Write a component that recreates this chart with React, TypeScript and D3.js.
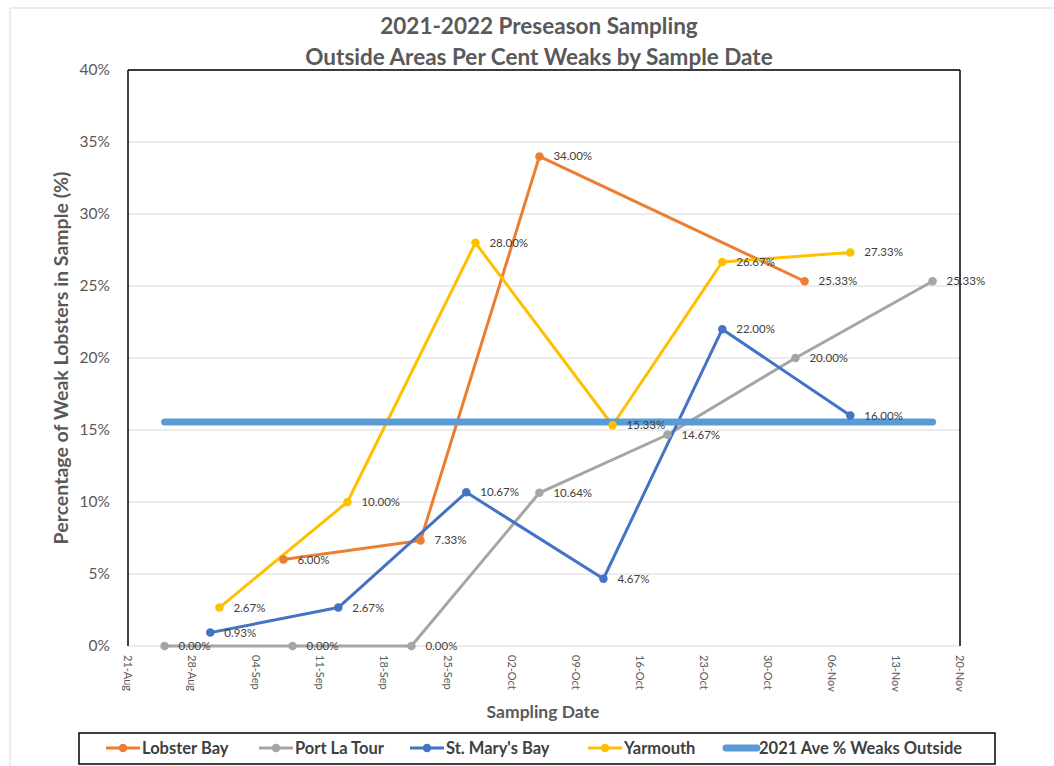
import React from "react";
import * as d3 from "d3";

const W = 1054;
const H = 766;

// Series data: [date, percent]
const lobsterBayDates = ["2021-09-07", "2021-09-22", "2021-10-05", "2021-11-03"];
const lobsterBayValues = [6.0, 7.33, 34.0, 25.33];

const portLaTourDates = ["2021-08-25", "2021-09-08", "2021-09-21", "2021-10-05", "2021-10-19", "2021-11-02", "2021-11-17"];
const portLaTourValues = [0.0, 0.0, 0.0, 10.64, 14.67, 20.0, 25.33];

const stMarysDates = ["2021-08-30", "2021-09-13", "2021-09-27", "2021-10-12", "2021-10-25", "2021-11-08"];
const stMarysValues = [0.93, 2.67, 10.67, 4.67, 22.0, 16.0];

const yarmouthDates = ["2021-08-31", "2021-09-14", "2021-09-28", "2021-10-13", "2021-10-25", "2021-11-08"];
const yarmouthValues = [2.67, 10.0, 28.0, 15.33, 26.67, 27.33];

const avgDates = ["2021-08-25", "2021-11-17"];
const avgValue = 15.56;

const seriesNames = ["Lobster Bay", "Port La Tour", "St. Mary's Bay", "Yarmouth", "2021 Ave % Weaks Outside"];
const seriesColors = ["#ED7D31", "#A5A5A5", "#4472C4", "#FFC000", "#5B9BD5"];

const yTicks = [0, 5, 10, 15, 20, 25, 30, 35, 40];
const xTickDates = ["2021-08-21", "2021-08-28", "2021-09-04", "2021-09-11", "2021-09-18", "2021-09-25", "2021-10-02", "2021-10-09", "2021-10-16", "2021-10-23", "2021-10-30", "2021-11-06", "2021-11-13", "2021-11-20"];

const FONT = "Lato, 'Open Sans', sans-serif";

const parse = d3.utcParse("%Y-%m-%d");
const fmtTick = d3.utcFormat("%d-%b");

export default function App() {
  const left = 128, right = 960, top = 70, bottom = 646;
  const x = d3.scaleUtc().domain([parse("2021-08-21")!, parse("2021-11-20")!]).range([left, right]);
  const y = d3.scaleLinear().domain([0, 40]).range([bottom, top]);

  const line = d3.line<[Date, number]>().x(d => x(d[0])).y(d => y(d[1]));

  const series = [
    { dates: lobsterBayDates, values: lobsterBayValues },
    { dates: portLaTourDates, values: portLaTourValues },
    { dates: stMarysDates, values: stMarysValues },
    { dates: yarmouthDates, values: yarmouthValues },
  ].map((s, i) => ({
    name: seriesNames[i],
    color: seriesColors[i],
    pts: s.dates.map((d, j) => [parse(d)!, s.values[j]] as [Date, number]),
  }));

  const avgPts: [Date, number][] = avgDates.map(d => [parse(d)!, avgValue]);

  // legend layout
  const legendItems = seriesNames.map((n, i) => ({ name: n, color: seriesColors[i] }));
  const legendX = [106, 259, 410, 588, 723];

  return (
    <svg width={W} height={H} style={{ position: "absolute", left: 0, top: 0, background: "#fff" }} fontFamily={FONT}>
      <rect x={0} y={0} width={W} height={H} fill="#fff" />
      {/* outer chart frame */}
      <line x1={10} y1={8} x2={W} y2={8} stroke="#d9d9d9" strokeWidth={1} />
      <line x1={10} y1={8} x2={10} y2={H} stroke="#d9d9d9" strokeWidth={1} />

      {/* title */}
      <text x={539} y={34} textAnchor="middle" fontSize={22.5} fontWeight="bold" fill="#595959">2021-2022 Preseason Sampling</text>
      <text x={539} y={65} textAnchor="middle" fontSize={22.5} fontWeight="bold" fill="#595959">Outside Areas Per Cent Weaks by Sample Date</text>

      {/* gridlines */}
      {yTicks.map(t => (
        <line key={t} x1={left} x2={right} y1={y(t)} y2={y(t)} stroke="#d9d9d9" strokeWidth={1} />
      ))}
      {/* plot border */}
      <line x1={left} x2={right} y1={top} y2={top} stroke="#000" strokeWidth={1.5} />
      <line x1={left} x2={left} y1={top} y2={bottom} stroke="#000" strokeWidth={1.5} />
      <line x1={right} x2={right} y1={top} y2={bottom} stroke="#000" strokeWidth={1.5} />

      {/* y tick labels */}
      {yTicks.map(t => (
        <text key={t} x={110} y={y(t)} dy="0.35em" textAnchor="end" fontSize={15.5} fill="#595959">{t}%</text>
      ))}
      {/* y axis title */}
      <text transform={`translate(68,${(top + bottom) / 2}) rotate(-90)`} textAnchor="middle" fontSize={19.5} fontWeight="bold" fill="#595959">
        Percentage of Weak Lobsters in Sample (%)
      </text>

      {/* x tick labels */}
      {xTickDates.map(d => {
        const dt = parse(d)!;
        return (
          <text key={d} transform={`translate(${x(dt)},${bottom + 9}) rotate(90)`} dy="0.35em" textAnchor="start" fontSize={11} fill="#595959">
            {fmtTick(dt)}
          </text>
        );
      })}
      <text x={543} y={718} textAnchor="middle" fontSize={17.5} fontWeight="bold" fill="#595959">Sampling Date</text>

      {/* series lines */}
      {series.map(s => (
        <path key={s.name} d={line(s.pts) || ""} fill="none" stroke={s.color} strokeWidth={3} strokeLinejoin="round" />
      ))}
      {/* average line */}
      <path d={line(avgPts) || ""} fill="none" stroke={seriesColors[4]} strokeWidth={7} strokeLinecap="round" />
      {/* markers */}
      {series.map(s => (
        <g key={s.name + "m"}>
          {s.pts.map((p, j) => (
            <circle key={j} cx={x(p[0])} cy={y(p[1])} r={4.25} fill={s.color} />
          ))}
        </g>
      ))}
      {/* data labels */}
      {series.map(s => (
        <g key={s.name + "l"}>
          {s.pts.map((p, j) => (
            <text key={j} x={x(p[0]) + 14} y={y(p[1])} dy="0.35em" fontSize={11.5} fill="#404040">
              {p[1].toFixed(2)}%
            </text>
          ))}
        </g>
      ))}

      {/* legend */}
      <rect x={79} y={733} width={916} height={31} fill="#fff" stroke="#000" strokeWidth={1.5} />
      {legendItems.map((it, i) => {
        const lx = legendX[i];
        const cy = 748;
        const isAvg = i === 4;
        return (
          <g key={it.name}>
            {isAvg ? (
              <line x1={lx + 3} x2={lx + 34} y1={cy} y2={cy} stroke={it.color} strokeWidth={7} strokeLinecap="round" />
            ) : (
              <>
                <line x1={lx} x2={lx + 34} y1={cy} y2={cy} stroke={it.color} strokeWidth={3} />
                <circle cx={lx + 17} cy={cy} r={4.25} fill={it.color} />
              </>
            )}
            <text x={lx + 36} y={cy} dy="0.35em" fontSize={16.5} fontWeight="bold" fill="#404040">{it.name}</text>
          </g>
        );
      })}
    </svg>
  );
}
